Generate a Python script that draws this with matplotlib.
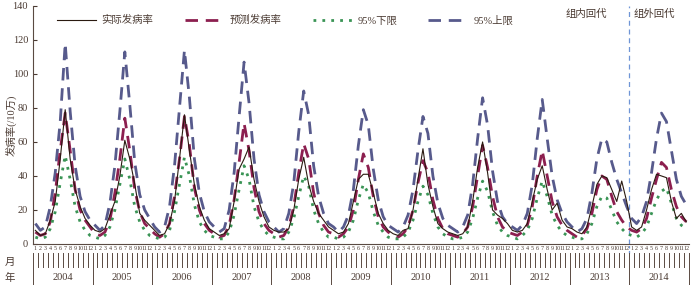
import numpy as np
import matplotlib
matplotlib.use("Agg")
from matplotlib import pyplot as plt
import matplotlib.transforms as mtransforms

plt.rcParams['font.family'] = ['Liberation Serif', 'Noto Sans CJK SC']

years = ['2004', '2005', '2006', '2007', '2008', '2009', '2010', '2011', '2012', '2013', '2014']
months = [str(m) for m in range(1, 13)]

# monthly incidence per 100k, one row per year
actual = [
    [8, 5, 6, 14, 25, 50, 79, 50, 32, 22, 15, 11],
    [8, 7, 9, 17, 25, 40, 61, 50, 35, 18, 14, 11],
    [8, 5, 6, 12, 25, 50, 76, 55, 35, 22, 14, 9],
    [7, 5, 6, 9, 25, 44, 50, 57, 38, 25, 16, 10],
    [8, 7, 7, 9, 20, 38, 51, 35, 25, 18, 14, 10],
    [8, 6, 7, 12, 25, 38, 41, 41, 30, 18, 12, 8],
    [6, 5, 8, 9, 20, 38, 56, 35, 22, 12, 9, 7],
    [6, 5, 6, 10, 25, 45, 60, 42, 20, 17, 15, 12],
    [8, 7, 8, 12, 25, 38, 46, 32, 20, 24, 14, 10],
    [9, 7, 6, 10, 22, 35, 40, 39, 32, 25, 37, 25],
    [10, 8, 10, 20, 32, 41, 40, 39, 25, 15, 18, 13],
]
predicted = [
    [7, 5, 6, 13, 30, 55, 77, 55, 32, 20, 14, 10],
    [6, 5, 7, 14, 30, 50, 74, 55, 32, 19, 12, 9],
    [6, 4, 6, 12, 28, 50, 75, 58, 33, 20, 12, 8],
    [6, 4, 5, 11, 26, 48, 71, 55, 33, 19, 12, 8],
    [6, 4, 5, 10, 22, 42, 59, 50, 30, 18, 11, 7],
    [6, 4, 6, 10, 20, 38, 53, 45, 28, 16, 10, 7],
    [5, 4, 6, 10, 20, 36, 49, 42, 26, 15, 9, 6],
    [5, 4, 6, 10, 22, 40, 58, 45, 28, 16, 10, 7],
    [6, 5, 7, 11, 22, 40, 55, 40, 25, 16, 11, 8],
    [6, 4, 5, 9, 18, 32, 40, 38, 28, 19, 14, 10],
    [8, 7, 9, 15, 27, 38, 48, 45, 32, 22, 16, 13],
]
lower95 = [
    [4, 3, 4, 9, 19, 36, 52, 38, 22, 13, 8, 5],
    [4, 3, 5, 10, 20, 35, 50, 38, 22, 13, 8, 5],
    [4, 3, 4, 8, 19, 35, 51, 40, 23, 13, 8, 5],
    [4, 3, 3, 7, 17, 32, 46, 38, 22, 13, 8, 5],
    [4, 3, 3, 7, 15, 28, 40, 34, 20, 12, 7, 4],
    [4, 3, 4, 7, 14, 26, 35, 30, 19, 11, 7, 4],
    [3, 3, 4, 7, 14, 25, 34, 29, 18, 10, 6, 4],
    [3, 3, 4, 7, 15, 27, 37, 31, 19, 11, 7, 5],
    [4, 3, 5, 8, 15, 27, 37, 28, 17, 11, 7, 5],
    [4, 3, 3, 6, 12, 22, 28, 27, 20, 13, 9, 6],
    [5, 4, 6, 10, 18, 26, 31, 33, 24, 15, 11, 9],
]
upper95 = [
    [12, 8, 10, 22, 42, 72, 118, 78, 46, 28, 19, 14],
    [11, 8, 11, 24, 46, 78, 113, 82, 48, 29, 20, 15],
    [10, 7, 10, 22, 46, 80, 114, 86, 50, 30, 19, 13],
    [10, 7, 9, 20, 42, 75, 107, 83, 50, 29, 19, 13],
    [10, 7, 9, 18, 36, 66, 90, 76, 46, 28, 18, 12],
    [10, 7, 10, 17, 32, 58, 79, 70, 44, 26, 16, 11],
    [9, 7, 10, 17, 32, 55, 75, 65, 40, 24, 15, 11],
    [9, 7, 10, 17, 35, 62, 86, 70, 43, 25, 16, 12],
    [10, 8, 11, 18, 35, 62, 85, 62, 40, 26, 18, 13],
    [10, 7, 9, 15, 30, 50, 62, 60, 48, 38, 30, 22],
    [15, 12, 16, 25, 42, 62, 77, 72, 55, 38, 28, 23],
]

txt_color = '#4a3a32'
n = len(years) * len(months)
x = np.arange(n)

fig = plt.figure(figsize=(7, 2.85), dpi=100)
ax = fig.add_axes([0.047, 0.144, 0.937, 0.835])

ax.plot(x, np.ravel(upper95), color='#575a8c', lw=2, dashes=(4.5, 2.8), label='95%上限', zorder=2)
ax.plot(x, np.ravel(predicted), color='#8c1f4f', lw=2, dashes=(4.5, 2.8), label='预测发病率', zorder=3)
ax.plot(x, np.ravel(lower95), color='#3a9455', lw=2, dashes=(1, 2.2), label='95%下限', zorder=3)
ax.plot(x, np.ravel(actual), color='#2a1a10', lw=0.8, label='实际发病率', zorder=4)

ax.set_xlim(-0.5, n - 0.5)
ax.set_ylim(0, 140)
ax.set_yticks(range(0, 141, 20))
ax.tick_params(axis='y', direction='in', length=3, labelsize=7.5, colors=txt_color)
ax.set_xticks([])
for s in ['top', 'right']:
    ax.spines[s].set_visible(False)
for s in ['left', 'bottom']:
    ax.spines[s].set_color('#5a4a42')
    ax.spines[s].set_linewidth(0.8)
fig.text(0.016, 0.56, '发病率(/10万)', fontsize=7.5, color=txt_color, rotation=90, ha='center', va='center')

# split between fitted and forecast years
trans = mtransforms.blended_transform_factory(ax.transData, ax.transAxes)
split = 10 * len(months) - 0.5
ax.axvline(split, color='#6f95d6', lw=0.9, dashes=(4, 3), zorder=1)
ax.plot([split, split], [-0.04, 0], transform=trans, color='#6f95d6', lw=0.9, dashes=(2, 2), clip_on=False)
ax.text(0.843, 0.955, '组内回代', transform=ax.transAxes, fontsize=7.5, color=txt_color, ha='center')
ax.text(0.947, 0.955, '组外回代', transform=ax.transAxes, fontsize=7.5, color=txt_color, ha='center')

h, l = ax.get_legend_handles_labels()
order = [3, 1, 2, 0]
ax.legend([h[i] for i in order], [l[i] for i in order], ncol=4, loc='upper left',
          bbox_to_anchor=(0.022, 1.0), frameon=False, fontsize=7.5, handlelength=3.8,
          columnspacing=3.0, handletextpad=0.5, labelcolor=txt_color)

# two-level category axis: months and years
for i in range(n):
    ax.text(i, -0.008, months[i % 12], transform=trans, fontsize=4.3,
            ha='center', va='top', color=txt_color)
for b in range(n + 1):
    if b % 12 == 0:
        y0 = -0.172
    else:
        y0 = -0.097
    ax.plot([b - 0.5, b - 0.5], [-0.038, y0], transform=trans, color='#5a4a42', lw=0.7, clip_on=False)
for k, yr in enumerate(years):
    ax.text(k * 12 + 5.5, -0.14, yr, transform=trans, fontsize=7.5, ha='center', va='center', color=txt_color)
fig.text(0.014, 0.08, '月', fontsize=7.5, color=txt_color, ha='center', va='center')
fig.text(0.014, 0.025, '年', fontsize=7.5, color=txt_color, ha='center', va='center')

fig.savefig('out.png', dpi=100, facecolor='white')
